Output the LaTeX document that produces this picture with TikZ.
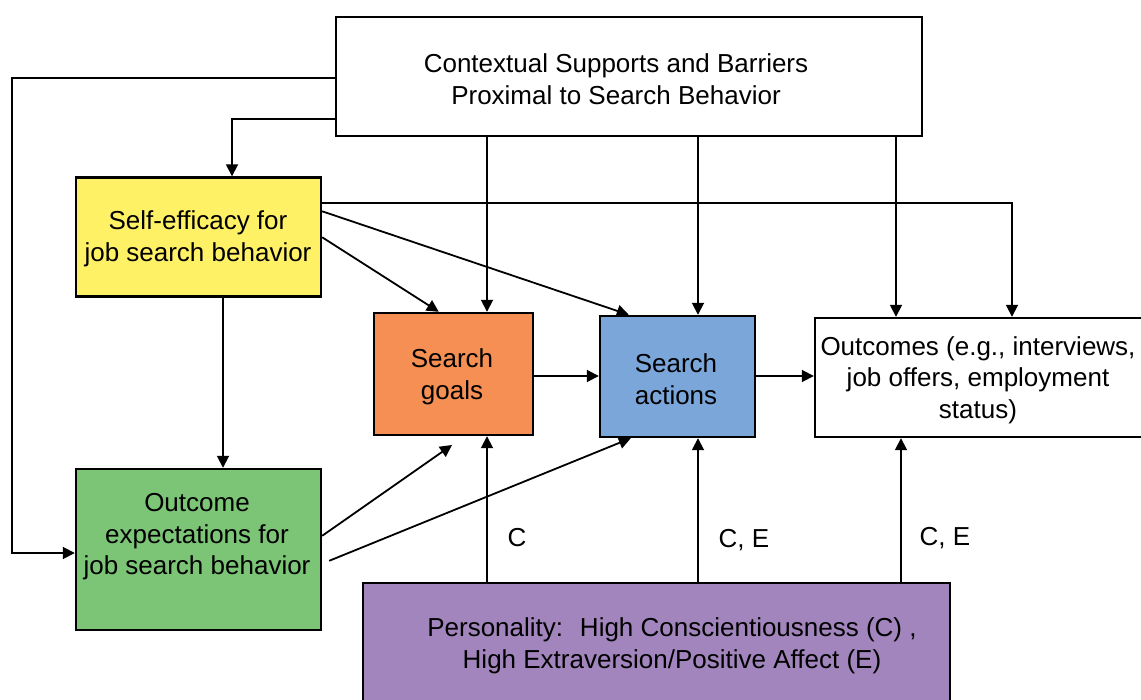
\documentclass[tikz,border=0pt]{standalone}
\usepackage{fontspec}
\setmainfont{Liberation Sans}
\usetikzlibrary{arrows.meta,calc}
\definecolor{cyel}{RGB}{255,241,102}
\definecolor{corg}{RGB}{245,143,84}
\definecolor{cblu}{RGB}{122,166,218}
\definecolor{cgrn}{RGB}{124,196,118}
\definecolor{cpur}{RGB}{161,133,188}
\begin{document}
\begin{tikzpicture}[x=1pt,y=-1pt,
 box/.style={draw=black, line width=2.4pt, rectangle, inner sep=0pt},
 txt/.style={align=center, font=\fontsize{26}{31.5}\selectfont, inner sep=0pt},
 arr/.style={line width=1.8pt, -{Triangle[length=12pt,width=12pt]}},
 lab/.style={font=\fontsize{26}{31.5}\selectfont, inner sep=0pt}]
\useasboundingbox (0,0) rectangle (1141,700);
\clip (0,0) rectangle (1141,700);
% boxes
\node[box, fill=white, minimum width=586, minimum height=119] (ctx) at (629,76.5) {};
\node[txt] (ctxT) at (616,79) {Contextual Supports and Barriers\\Proximal to Search Behavior};
\node[box, fill=cyel, minimum width=245, minimum height=119] (self) at (198.5,237) {};
\node[txt] (selfT) at (198,239) {Self-efficacy for\\job search behavior};
\node[box, fill=cgrn, minimum width=245, minimum height=161] (oexp) at (198.5,549.5) {};
\node[txt] (oexpT) at (197,537) {Outcome\\expectations for\\job search behavior};
\node[box, fill=corg, minimum width=159, minimum height=122] (goals) at (453.5,374) {};
\node[txt] (goalsT) at (452,377) {Search\\goals};
\node[box, fill=cblu, minimum width=155, minimum height=121] (acts) at (677.5,376.5) {};
\node[txt] (actsT) at (676,379) {Search\\actions};
\node[box, fill=white, minimum width=335, minimum height=119] (outc) at (982.5,377.5) {};
\node[txt] (outcT) at (978,380) {Outcomes (e.g., interviews,\\job offers, employment\\status)};
\node[box, fill=cpur, minimum width=587, minimum height=137] (pers) at (656.5,651.5) {};
\node[txt] (persT) at (672,646) {Personality:~ High Conscientiousness (C)~,\\High Extraversion/Positive Affect (E)};
% helper coordinates
\coordinate (pL1) at (12,78);
\coordinate (pL2) at (12,553);
\coordinate (pA) at (232,119);
\coordinate (xg) at (487,0);
\coordinate (xa) at (698,0);
\coordinate (xo) at (896,0);
\coordinate (xo2) at (1012,0);
\coordinate (xp) at (901,0);
\coordinate (xs) at (223,0);
\coordinate (ys) at (0,203);
\coordinate (yh) at (0,376);
\coordinate (e1) at (452,445);
% connectors
\draw[arr] (ctx.west |- pL1) -- (pL1) -- (pL2) -- (oexp.west |- pL2);
\draw[arr] (ctx.west |- pA) -| (self.north -| pA);
\draw[arr] (ctx.south -| xg) -- (goals.north -| xg);
\draw[arr] (ctx.south -| xa) -- (acts.north -| xa);
\draw[arr] (ctx.south -| xo) -- (outc.north -| xo);
\draw[arr] (self.east |- ys) -| (outc.north -| xo2);
\draw[arr] ($(self.north east)+(0,35)$) -- ($(acts.north west)+(30,0)$);
\draw[arr] ($(self.north east)+(0,61)$) -- ($(goals.north west)+(66,0)$);
\draw[arr] (self.south -| xs) -- (oexp.north -| xs);
\draw[arr] ($(oexp.north east)+(0,68)$) -- (e1);
\draw[arr] ($(oexp.north east)+(7,93)$) -- ($(acts.south west)+(32,0)$);
\draw[arr] (goals.east |- yh) -- (acts.west |- yh);
\draw[arr] (acts.east |- yh) -- (outc.west |- yh);
\draw[arr] (pers.north -| xg) -- (goals.south -| xg);
\draw[arr] (pers.north -| xa) -- (acts.south -| xa);
\draw[arr] (pers.north -| xp) -- (outc.south -| xp);
% labels
\node[lab] (lC) at (517,538) {C};
\node[lab] (lCE1) at (744,540) {C, E};
\node[lab] (lCE2) at (945,538) {C, E};
\end{tikzpicture}
\end{document}
